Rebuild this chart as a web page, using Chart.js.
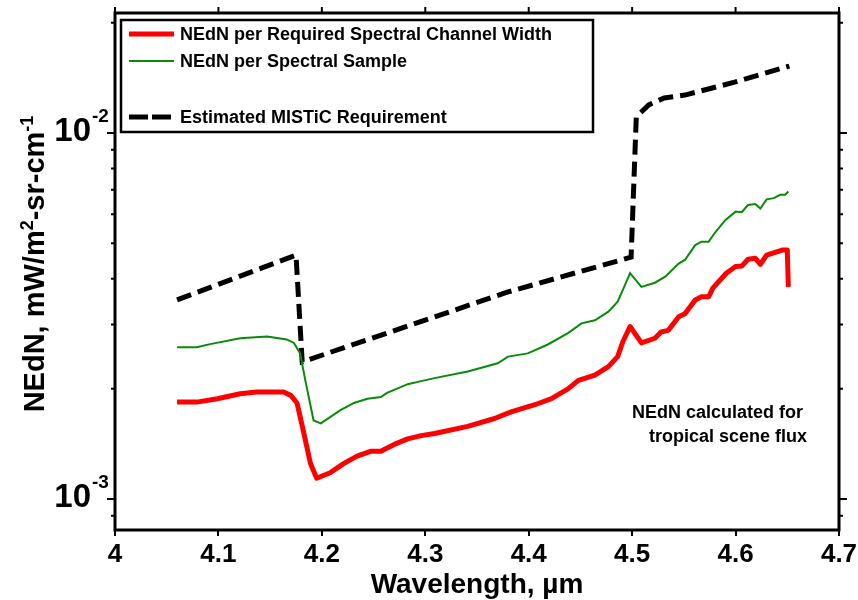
<!DOCTYPE html>
<html>
<head>
<meta charset="utf-8">
<script src="https://cdn.jsdelivr.net/npm/chart.js@4/dist/chart.umd.min.js"></script>
<style>
  html, body { margin: 0; padding: 0; background: #fff; }
  #wrap { width: 858px; height: 600px; }
</style>
</head>
<body>
<div id="wrap"><canvas id="nednChart" width="858" height="600"></canvas></div>
<script>
// Datos (longitud de onda en µm, NEdN en mW/m2-sr-cm-1)
const redWl = [4.06, 4.079, 4.099, 4.121, 4.137, 4.163, 4.170, 4.176, 4.182, 4.189, 4.195, 4.208, 4.221, 4.234, 4.247, 4.257, 4.270, 4.283, 4.296, 4.309, 4.341, 4.367, 4.383, 4.406, 4.422, 4.438, 4.448, 4.464, 4.477, 4.486, 4.491, 4.498, 4.509, 4.522, 4.528, 4.535, 4.545, 4.551, 4.561, 4.567, 4.574, 4.578, 4.591, 4.600, 4.606, 4.612, 4.619, 4.624, 4.630, 4.645, 4.650, 4.651];
const redVal = [0.00184, 0.00184, 0.00188, 0.00194, 0.00196, 0.00196, 0.00192, 0.00183, 0.00154, 0.00125, 0.00114, 0.00118, 0.00125, 0.00131, 0.00135, 0.00135, 0.00141, 0.00146, 0.00149, 0.00151, 0.00158, 0.00166, 0.00173, 0.00181, 0.00188, 0.00200, 0.00211, 0.00218, 0.00230, 0.00245, 0.00269, 0.00296, 0.00267, 0.00275, 0.00286, 0.00289, 0.00315, 0.00321, 0.00350, 0.00357, 0.00357, 0.00377, 0.00414, 0.00432, 0.00433, 0.00452, 0.00455, 0.00438, 0.00464, 0.00479, 0.00479, 0.00380];

const greenWl = [4.06, 4.079, 4.092, 4.121, 4.147, 4.166, 4.173, 4.179, 4.184, 4.192, 4.199, 4.218, 4.231, 4.244, 4.257, 4.263, 4.283, 4.296, 4.309, 4.341, 4.370, 4.380, 4.399, 4.418, 4.438, 4.451, 4.464, 4.477, 4.486, 4.493, 4.498, 4.509, 4.522, 4.532, 4.545, 4.551, 4.561, 4.567, 4.574, 4.580, 4.590, 4.600, 4.606, 4.612, 4.619, 4.624, 4.630, 4.637, 4.643, 4.648, 4.651];
const greenVal = [0.00260, 0.00260, 0.00265, 0.00275, 0.00278, 0.00273, 0.00267, 0.00250, 0.00211, 0.00164, 0.00161, 0.00175, 0.00183, 0.00188, 0.00190, 0.00195, 0.00206, 0.00210, 0.00214, 0.00223, 0.00235, 0.00245, 0.00250, 0.00264, 0.00284, 0.00302, 0.00308, 0.00325, 0.00346, 0.00384, 0.00414, 0.00380, 0.00390, 0.00405, 0.00440, 0.00450, 0.00494, 0.00505, 0.00505, 0.00534, 0.00578, 0.00610, 0.00608, 0.00636, 0.00640, 0.00622, 0.00659, 0.00664, 0.00678, 0.00678, 0.00692];

const reqWl = [4.06, 4.175, 4.181, 4.38, 4.499, 4.504, 4.516, 4.531, 4.551, 4.599, 4.652];
const reqVal = [0.00350, 0.00464, 0.00237, 0.00368, 0.00458, 0.01106, 0.01194, 0.01247, 0.01270, 0.01377, 0.01524];

const xTicks = [4, 4.1, 4.2, 4.3, 4.4, 4.5, 4.6, 4.7];
const yMajor = [-3, -2];   // exponentes de las etiquetas 10^n

const legendLabels = ['NEdN per Required Spectral Channel Width', 'NEdN per Spectral Sample', 'Estimated MISTiC Requirement'];
const noteLines = ['NEdN calculated for', 'tropical scene flux'];

const pts = (xs, ys) => xs.map((x, i) => ({ x: x, y: ys[i] }));
const FONT = '"Liberation Sans", Arial, sans-serif';

// Marco, marcas de escala, etiquetas 10^n, título Y, leyenda y nota
const decor = {
    id: 'decor',
    afterDraw(chart) {
        const ctx = chart.ctx;
        const a = chart.chartArea;
        const xs = chart.scales.x, ys = chart.scales.y;
        ctx.save();
        ctx.strokeStyle = '#000';
        ctx.fillStyle = '#000';

        // marcas eje Y (izquierda y derecha)
        ctx.lineWidth = 2;
        for (let e = -4; e <= -1; e++) {
            for (let m = 1; m <= 9; m++) {
                const v = m * Math.pow(10, e);
                if (v < ys.min || v > ys.max) continue;
                const py = ys.getPixelForValue(v);
                const len = m === 1 ? 8 : 4;
                ctx.beginPath();
                ctx.moveTo(a.left - len, py); ctx.lineTo(a.left, py);
                ctx.moveTo(a.right, py); ctx.lineTo(a.right + len, py);
                ctx.stroke();
            }
        }
        // marcas eje X arriba
        xTicks.forEach(t => {
            const px = xs.getPixelForValue(t);
            ctx.beginPath();
            ctx.moveTo(px, a.top - 6); ctx.lineTo(px, a.top);
            ctx.stroke();
        });

        // marco
        ctx.lineWidth = 3;
        ctx.strokeRect(a.left, a.top, a.right - a.left, a.bottom - a.top);

        // etiquetas 10^n
        yMajor.forEach(n => {
            const py = ys.getPixelForValue(Math.pow(10, n));
            ctx.textBaseline = 'middle';
            ctx.textAlign = 'right';
            ctx.font = 'bold 33px ' + FONT;
            ctx.fillText('10', 91, py - 1);
            ctx.textAlign = 'left';
            ctx.font = 'bold 19px ' + FONT;
            ctx.fillText('-' + Math.abs(n), 92, py - 16);
        });

        // título eje Y con superíndices
        ctx.save();
        ctx.translate(33, 264);
        ctx.rotate(-Math.PI / 2);
        const parts = [['NEdN, mW/m', 29, 0], ['2', 18, -11], ['-sr-cm', 29, 0], ['-1', 18, -11]];
        let total = 0;
        parts.forEach(p => { ctx.font = 'bold ' + p[1] + 'px ' + FONT; total += ctx.measureText(p[0]).width; });
        let cx = -total / 2;
        ctx.textAlign = 'left';
        ctx.textBaseline = 'alphabetic';
        parts.forEach(p => {
            ctx.font = 'bold ' + p[1] + 'px ' + FONT;
            ctx.fillText(p[0], cx, 11 + p[2]);
            cx += ctx.measureText(p[0]).width;
        });
        ctx.restore();

        // leyenda
        const lx = 121, ly = 20, lw = 472, lh = 112;
        ctx.fillStyle = '#fff';
        ctx.fillRect(lx, ly, lw, lh);
        ctx.lineWidth = 2.5;
        ctx.strokeStyle = '#000';
        ctx.strokeRect(lx, ly, lw, lh);
        const rows = [34, 61, 117];
        chart.data.datasets.forEach((ds, i) => {
            const yy = rows[i];
            ctx.beginPath();
            ctx.strokeStyle = ds.borderColor;
            ctx.lineWidth = ds.borderWidth;
            ctx.setLineDash(ds.borderDash ? [19, 4] : []);
            ctx.moveTo(129, yy); ctx.lineTo(174, yy);
            ctx.stroke();
            ctx.setLineDash([]);
            ctx.fillStyle = '#000';
            ctx.font = 'bold 18px ' + FONT;
            ctx.textAlign = 'left';
            ctx.textBaseline = 'middle';
            ctx.fillText(ds.label, 180, yy + 1);
        });

        // nota
        ctx.fillStyle = '#000';
        ctx.font = 'bold 18px ' + FONT;
        ctx.textAlign = 'right';
        ctx.textBaseline = 'middle';
        ctx.fillText(noteLines[0], 803, 413);
        ctx.fillText(noteLines[1], 807, 437);
        ctx.restore();
    }
};

const ctx = document.getElementById('nednChart').getContext('2d');
new Chart(ctx, {
    type: 'line',
    data: {
        datasets: [{
            label: legendLabels[0],
            data: pts(redWl, redVal),
            borderColor: '#ff0000',
            borderWidth: 5,
            pointRadius: 0,
            tension: 0,
            borderJoinStyle: 'round'
        }, {
            label: legendLabels[1],
            data: pts(greenWl, greenVal),
            borderColor: '#0a8a0a',
            borderWidth: 2,
            pointRadius: 0,
            tension: 0
        }, {
            label: legendLabels[2],
            data: pts(reqWl, reqVal),
            borderColor: '#000000',
            borderWidth: 5,
            borderDash: [15, 7],
            pointRadius: 0,
            tension: 0
        }]
    },
    options: {
        responsive: false,
        animation: false,
        layout: { padding: { left: 0, top: 13, right: 19, bottom: 0 } },
        plugins: {
            legend: { display: false },
            tooltip: { enabled: false }
        },
        scales: {
            x: {
                type: 'linear',
                min: 4,
                max: 4.7,
                afterBuildTicks: s => { s.ticks = xTicks.map(v => ({ value: v })); },
                afterFit: s => { s.height = 70; s.paddingLeft = 0; s.paddingRight = 0; },
                ticks: {
                    color: '#000',
                    font: { family: FONT, size: 26, weight: 'bold' },
                    padding: 3,
                    maxRotation: 0,
                    callback: v => String(Math.round(v * 10) / 10)
                },
                grid: { display: true, drawOnChartArea: false, color: '#000', lineWidth: 2, tickLength: 6 },
                border: { display: false },
                title: {
                    display: true,
                    text: 'Wavelength, µm',
                    color: '#000',
                    font: { family: FONT, size: 28, weight: 'bold' },
                    padding: { top: 0, bottom: -2 }
                }
            },
            y: {
                type: 'logarithmic',
                min: 0.000823,
                max: 0.02128,
                afterFit: s => { s.width = 115; },
                ticks: { display: false },
                grid: { display: false },
                border: { display: false }
            }
        }
    },
    plugins: [decor]
});
</script>
</body>
</html>
